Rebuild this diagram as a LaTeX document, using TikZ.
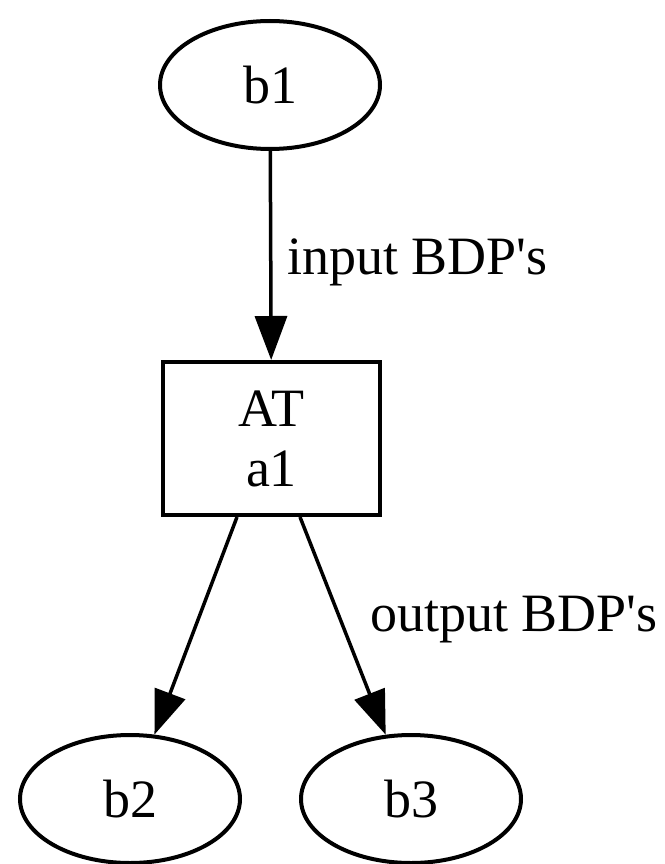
\documentclass[tikz,border=0pt]{standalone}
\usepackage{fontspec}
\setmainfont{Liberation Serif}
\usetikzlibrary{shapes.geometric,arrows.meta,calc}

\tikzset{
  every picture/.style={x=1pt,y=-1pt},
  base/.style={font=\fontsize{54}{60}\selectfont, line width=4pt, inner sep=0pt},
  oval/.style={base, draw, ellipse, minimum width=220pt, minimum height=128pt},
  box/.style={base, draw, rectangle, minimum width=217pt, minimum height=153pt, align=center},
  edge/.style={line width=3.5pt, -{Triangle[length=44pt,width=32pt]}},
  elabel/.style={font=\fontsize{54}{60}\selectfont, anchor=west, inner sep=0pt}
}

\begin{document}
\begin{tikzpicture}
  \useasboundingbox (0,0) rectangle (664,864);

  % nodes
  \node[oval] (b1) at (270,85) {b1};
  \node[box]  (a1) at (271.5,438.5) {AT\\a1};
  \node[oval] (b2) at (130,799) {b2};
  \node[oval] (b3) at (411,799) {b3};

  % edge start points on the bottom of the box
  \coordinate (s2) at ($(a1.south)+(-34.5,0)$);
  \coordinate (s3) at ($(a1.south)+(28.5,0)$);

  % edges
  \draw[edge] (b1) -- (a1);
  \draw[edge] (s2) -- (b2);
  \draw[edge] (s3) -- (b3);

  % edge labels (straight apostrophe)
  \node[elabel] (l1) at (287,262) {input BDP\textquotesingle s};
  \node[elabel] (l2) at (370,620) {output BDP\textquotesingle s};
\end{tikzpicture}
\end{document}
